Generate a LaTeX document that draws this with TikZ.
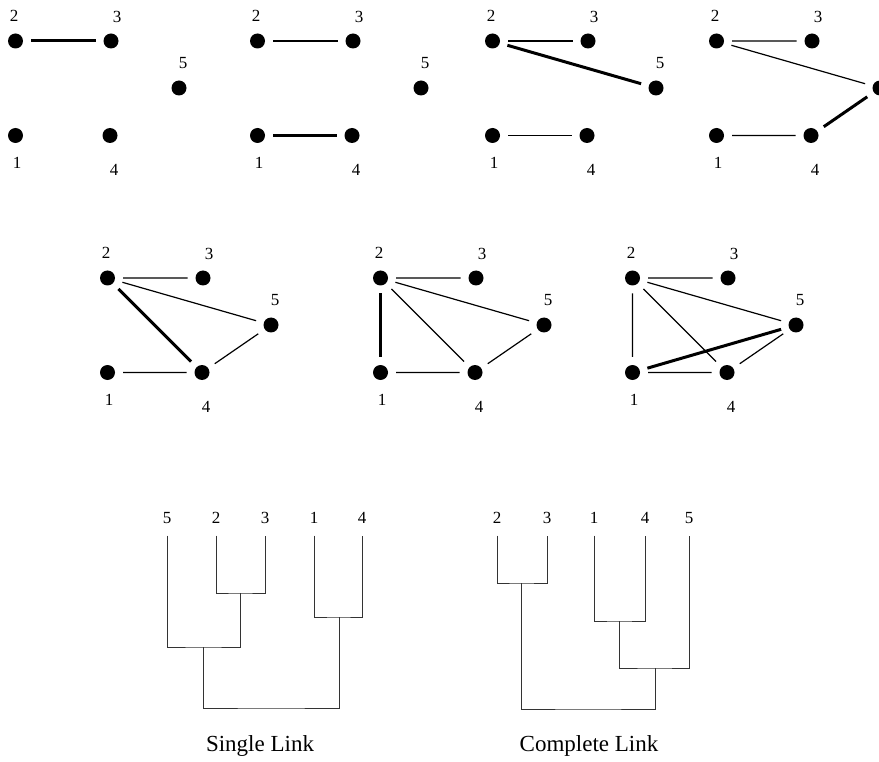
\documentclass[tikz,border=0pt]{standalone}
\usepackage{fontspec}
\setmainfont{Liberation Serif}
\usetikzlibrary{positioning}

\tikzset{
  dot/.style={circle,fill=black,inner sep=0pt,minimum size=15pt,outer sep=8pt},
  num/.style={inner sep=0pt,font=\fontsize{17}{17}\selectfont},
  leaf/.style={num,outer sep=12pt},
  link/.style={line width=1.2pt},
  merge/.style={line width=3pt},
  tree/.style={line width=1pt,black!80},
  caption/.style={font=\fontsize{23}{23}\selectfont},
}

\begin{document}
\begin{tikzpicture}[x=1pt,y=-1pt]
  \useasboundingbox (0,0) rectangle (879,762);

  % five points per step, steps a-d on top, e-g below
  \foreach \p/\x/\y/\f in {a/0/0/5, b/242/0/5, c/477/0/5, d/701/0/{},
                           e/92/237/5, f/365/237/5, g/617/237/5} {
    \node[dot] (\p1) at (\x+15.5,\y+135.5) {};
    \node[dot] (\p2) at (\x+15.5,\y+41) {};
    \node[dot] (\p3) at (\x+111,\y+41) {};
    \node[dot] (\p4) at (\x+110,\y+135.5) {};
    \node[dot] (\p5) at (\x+179,\y+88) {};
    \node[num] (l\p1) at (\x+17,\y+163) {1};
    \node[num] (l\p2) at (\x+14,\y+16) {2};
    \node[num] (l\p3) at (\x+117,\y+17) {3};
    \node[num] (l\p4) at (\x+114,\y+170) {4};
    \node[num] (l\p5) at (\x+183,\y+63) {\f};
  }

  \draw[merge] (a2) -- (a3);

  \draw[link] (b2) -- (b3);
  \draw[merge] (b1) -- (b4);

  \draw[link] (c2) -- (c3) (c1) -- (c4);
  \draw[merge] (c2) -- (c5);

  \draw[link] (d2) -- (d3) (d1) -- (d4) (d2) -- (d5);
  \draw[merge] (d4) -- (d5);

  \draw[link] (e2) -- (e3) (e1) -- (e4) (e2) -- (e5) (e4) -- (e5);
  \draw[merge] (e2) -- (e4);

  \draw[link] (f2) -- (f3) (f1) -- (f4) (f2) -- (f5) (f4) -- (f5) (f2) -- (f4);
  \draw[merge] (f1) -- (f2);

  \draw[link] (g2) -- (g3) (g1) -- (g4) (g2) -- (g5) (g4) -- (g5) (g2) -- (g4) (g1) -- (g2);
  \draw[merge] (g1) -- (g5);

  % single link dendrogram
  \node[leaf] (sl5) at (167,518) {5};
  \node[leaf] (sl2) at (216,518) {2};
  \node[leaf] (sl3) at (265,518) {3};
  \node[leaf] (sl1) at (314,518) {1};
  \node[leaf] (sl4) at (362,518) {4};
  \coordinate (s23) at (240,593);
  \coordinate (s14) at (339,617);
  \coordinate (s235) at (203,647);
  \coordinate (sroot) at (271,708);
  \draw[tree] (sl2) |- (s23) -| (sl3);
  \draw[tree] (sl1) |- (s14) -| (sl4);
  \draw[tree] (sl5) |- (s235) -| (s23);
  \draw[tree] (s235) |- (sroot) -| (s14);
  \node[caption] (single) at (260,746) {Single Link};

  % complete link dendrogram
  \node[leaf] (cl2) at (497,518) {2};
  \node[leaf] (cl3) at (547,518) {3};
  \node[leaf] (cl1) at (594,518) {1};
  \node[leaf] (cl4) at (645,518) {4};
  \node[leaf] (cl5) at (689,518) {5};
  \coordinate (c23) at (521,583);
  \coordinate (c14) at (619,621);
  \coordinate (c145) at (655,668);
  \coordinate (croot) at (588,709);
  \draw[tree] (cl2) |- (c23) -| (cl3);
  \draw[tree] (cl1) |- (c14) -| (cl4);
  \draw[tree] (c14) |- (c145) -| (cl5);
  \draw[tree] (c23) |- (croot) -| (c145);
  \node[caption] (complete) at (589,746) {Complete Link};
\end{tikzpicture}
\end{document}
